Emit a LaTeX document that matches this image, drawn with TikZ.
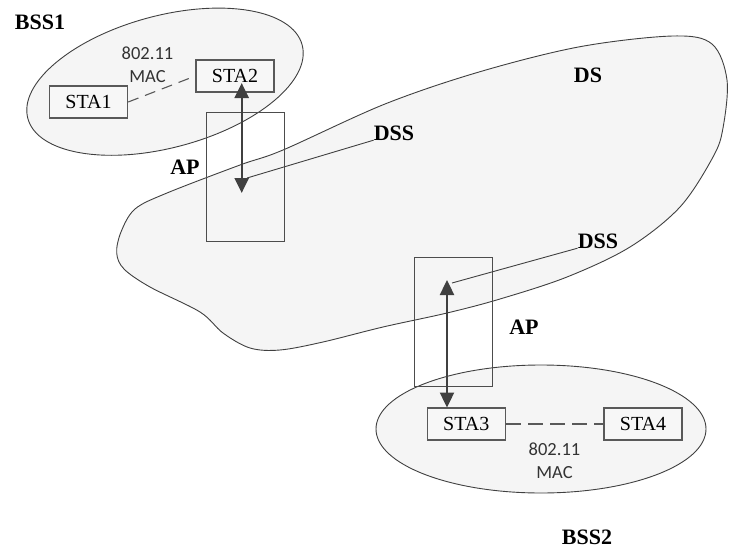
\documentclass[tikz,border=0pt]{standalone}
\usepackage{fontspec}
\setmainfont{Liberation Serif}
\newfontfamily\macfont{Carlito}
\usetikzlibrary{arrows.meta,shapes.geometric,calc}

\begin{document}
\begin{tikzpicture}[x=1pt, y=-1pt,
	region/.style={draw=black!75, line width=0.9pt, fill=black!4},
	sta/.style={draw=black!65, line width=1.4pt, fill=black!3, minimum width=78pt, minimum height=32pt, inner sep=0pt, font=\fontsize{20}{20}\selectfont},
	apbox/.style={draw=black!70, line width=1pt, minimum width=78pt, minimum height=129pt, inner sep=0pt},
	lbl/.style={font=\fontsize{22}{22}\selectfont\bfseries, inner sep=0pt},
	mac/.style={font=\macfont\fontsize{18.5}{23}\selectfont, align=center, inner sep=0pt, text=black!80},
	link/.style={draw=black!75, line width=2.4pt, {Triangle[length=15pt,width=14pt]}-{Triangle[length=15pt,width=14pt]}},
	wire/.style={draw=black!75, line width=0.9pt},
	]

	% === page size ===
	\useasboundingbox (0,0) rectangle (729,549);

	% === DS cloud ===
	\draw[region] plot[smooth cycle, tension=0.55] coordinates {
		(116.7,253) (121,232) (135,209) (167,193) (240,165) (283,150) (385,104)
		(480,71.7) (580,46.7) (673,36) (712,44) (727,80) (723,128)
		(713,157) (680,207) (630,247) (567,277) (500,299) (447,313)
		(383,327) (323,342) (280,350) (250,348) (223,333) (200,312)
		(150,287) (124,269)};

	% === BSS ellipses ===
	\node[region, ellipse, minimum width=284pt, minimum height=132pt, inner sep=0pt, rotate=15] (bss1) at (165,81.7) {};
	\node[region, ellipse, minimum width=330pt, minimum height=128pt, inner sep=0pt] (bss2) at (541,429) {};

	% === access points ===
	\node[apbox] (ap1) at (245.5,177.2) {};
	\node[apbox] (ap2) at (453.5,321.7) {};

	% === stations ===
	\foreach \n/\x/\y in {1/88.5/102, 2/235/76, 3/466.3/424, 4/643/424}
		\node[sta] (sta\n) at (\x,\y) {STA\n};

	% === labels ===
	\node[lbl] (bss1lbl) at (40,22) {BSS1};
	\node[lbl] (bss2lbl) at (587,537) {BSS2};
	\node[lbl] (ds) at (588,75) {DS};
	\node[lbl] (dss1) at (394,133) {DSS};
	\node[lbl] (dss2) at (598,241) {DSS};
	\node[lbl] (ap1lbl) at (185,167) {AP};
	\node[lbl] (ap2lbl) at (524,327) {AP};
	\node[mac] (mac1) at (147.5,64.5) {802.11\\MAC};
	\node[mac] (mac2) at (554.5,461) {802.11\\MAC};

	% === 802.11 links ===
	\draw[wire, draw=black!65, line width=1.1pt, dash pattern=on 11pt off 7pt] (sta1.east) -- (sta2.west);
	\draw[wire, draw=black!65, line width=1.1pt, dash pattern=on 15pt off 7pt] (sta3.east) -- (sta4.west);

	% === AP arrows ===
	\coordinate (ap1top) at (241.7,83);
	\coordinate (ap1bot) at (241.7,193);
	\coordinate (ap2top) at (447,280);
	\coordinate (ap2bot) at (447,407.5);
	\draw[link] (ap1top) -- (ap1bot);
	\draw[link] (ap2top) -- (ap2bot);

	% === DSS pointers ===
	\coordinate (ap1dss) at (247,178);
	\coordinate (ap2dss) at (452,283);
	\draw[wire] (dss1.base west) -- (ap1dss);
	\draw[wire] (dss2.base west) -- (ap2dss);
\end{tikzpicture}
\end{document}
